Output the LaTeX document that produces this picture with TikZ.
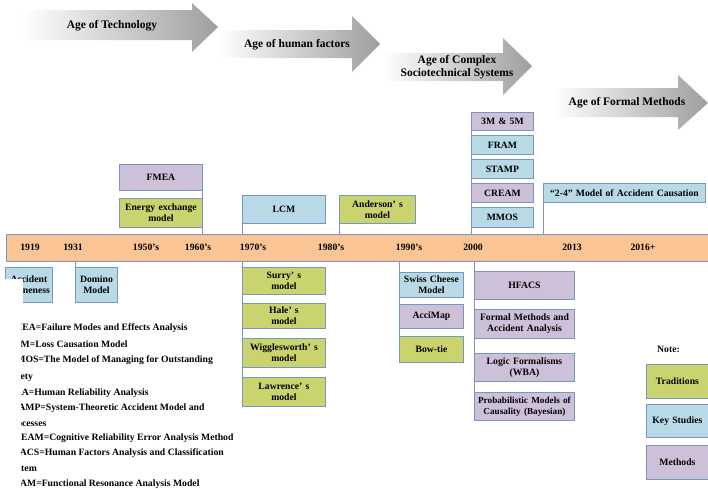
\documentclass[tikz,border=0pt]{standalone}
\usepackage{fontspec}
\setmainfont{Liberation Serif}
\definecolor{bordc}{RGB}{120,150,190}
\definecolor{tradc}{RGB}{202,212,110}
\definecolor{keyc}{RGB}{183,218,230}
\definecolor{methc}{RGB}{205,192,217}
\definecolor{bandc}{RGB}{251,196,148}
\tikzset{
  bx/.style={draw=bordc, line width=0.9pt, inner sep=1pt, align=center, anchor=north west,
    font=\bfseries\fontsize{9.7}{11}\selectfont},
  trad/.style={bx, fill=tradc},
  keys/.style={bx, fill=keyc},
  meth/.style={bx, fill=methc},
  conn/.style={draw=bordc, line width=0.9pt},
  yr/.style={font=\bfseries\fontsize{9.7}{10}\selectfont, inner sep=0pt},
  agetxt/.style={font=\bfseries\fontsize{11.5}{13}\selectfont, align=center, inner sep=0pt},
  legtxt/.style={font=\bfseries\fontsize{9.7}{10}\selectfont, anchor=west, inner sep=0pt},
  agearrow/.style={left color=white, right color=black!38, draw=none}
}
\newcommand{\bxs}[7]{% style, name, x1, y1, x2, y2, text
  \pgfmathsetmacro{\bw}{#5-#3}\pgfmathsetmacro{\bh}{#6-#4}%
  \node[#1, minimum width=\bw pt, minimum height=\bh pt, text width=\bw pt-2pt] (#2) at (#3,#4) {#7};}
\newcommand{\aps}{’\,\,}
\begin{document}
\begin{tikzpicture}[x=1pt,y=-1pt]
\useasboundingbox (0,0) rectangle (708,488);
% age arrows
\shade[agearrow] (22,10) -- (192,10) -- (192,3) -- (218,27) -- (192,52) -- (192,40) -- (22,40) -- cycle;
\node[agetxt] (age1) at (112,26) {Age of Technology};
\shade[agearrow] (218,30) -- (352,30) -- (352,16) -- (380,44) -- (352,72) -- (352,58) -- (218,58) -- cycle;
\node[agetxt] (age2) at (297,45) {Age of human factors};
\shade[agearrow] (383,53) -- (503,53) -- (503,38) -- (532,66) -- (503,95) -- (503,81) -- (383,81) -- cycle;
\node[agetxt] (age3) at (457,67) {Age of Complex\\Sociotechnical Systems};
\shade[agearrow] (553,88) -- (678,88) -- (678,75) -- (708,103) -- (678,130) -- (678,117) -- (553,117) -- cycle;
\node[agetxt] (age4) at (627,103) {Age of Formal Methods};
% band
\node[draw=bordc, line width=0.9pt, fill=bandc, anchor=north west, minimum width=704pt, minimum height=27pt, inner sep=0pt] (band) at (6,234) {};
\node[yr] (y1919) at (30,247.5) {1919};
\node[yr] (y1931) at (73,247.5) {1931};
\node[yr] (y1950) at (146,247.5) {1950's};
\node[yr] (y1960) at (198,247.5) {1960's};
\node[yr] (y1970) at (253,247.5) {1970's};
\node[yr] (y1980) at (331,247.5) {1980's};
\node[yr] (y1990) at (409,247.5) {1990's};
\node[yr] (y2000) at (473,247.5) {2000};
\node[yr] (y2013) at (572,247.5) {2013};
\node[yr] (y2016) at (643,247.5) {2016+};
% connectors (drawn before boxes)
\coordinate (cfm) at (202,164);
\draw[conn] (cfm) -- (cfm |- band.north);
\coordinate (clcm) at (242,195);
\draw[conn] (clcm) -- (clcm |- band.north);
\coordinate (cand) at (339,195);
\draw[conn] (cand) -- (cand |- band.north);
\coordinate (c2000) at (471,112);
\draw[conn] (c2000) -- (c2000 |- band.north);
\coordinate (c24) at (543,183);
\draw[conn] (c24) -- (c24 |- band.north);
\coordinate (cdom) at (75,267);
\draw[conn] (cdom |- band.south) -- (cdom);
\coordinate (c70) at (242,377);
\draw[conn] (c70 |- band.south) -- (c70);
\coordinate (c90) at (399,336);
\draw[conn] (c90 |- band.south) -- (c90);
\coordinate (c00) at (474,392);
\draw[conn] (c00 |- band.south) -- (c00);
% above boxes
\bxs{meth}{fmea}{119}{164}{202}{190}{FMEA}
\bxs{trad}{energy}{119}{198}{202}{227}{Energy exchange\\model}
\bxs{keys}{lcm}{242}{195}{325}{223}{LCM}
\bxs{trad}{anderson}{339}{195}{415}{223}{Anderson\aps s\\model}
\bxs{meth}{mfive}{471}{112}{533}{130}{3M \& 5M}
\bxs{keys}{fram}{471}{135}{533}{154}{FRAM}
\bxs{keys}{stamp}{471}{159}{533}{178}{STAMP}
\bxs{meth}{cream}{471}{183}{533}{202}{CREAM}
\bxs{keys}{mmos}{471}{207}{533}{227}{MMOS}
\bxs{keys}{twofour}{543}{183}{705}{202}{“2-4”\,\,Model of Accident Causation}
% below boxes
\bxs{keys}{accprone}{5}{267}{52}{302}{Accident\\Proneness}
\fill[white] (0,279) rectangle (22.5,306);
\bxs{keys}{domino}{75}{267}{117}{302}{Domino\\Model}
\bxs{trad}{surry}{242}{267}{325}{294}{Surry\aps s\\model}
\bxs{trad}{hale}{242}{303}{325}{328}{Hale\aps s\\model}
\bxs{trad}{wiggles}{242}{338}{325}{367}{Wigglesworth\aps s\\model}
\bxs{trad}{lawrence}{242}{377}{325}{406}{Lawrence\aps s\\model}
\bxs{keys}{swiss}{399}{272}{463}{297}{Swiss Cheese\\Model}
\bxs{meth}{accimap}{399}{304}{463}{328}{AcciMap}
\bxs{trad}{bowtie}{399}{336}{463}{362}{Bow-tie}
\bxs{meth}{hfacs}{474}{271}{574}{299}{HFACS}
\bxs{meth}{formal}{474}{309}{574}{338}{Formal Methods and\\Accident Analysis}
\bxs{meth}{logic}{474}{353}{574}{381}{Logic Formalisms\\(WBA)}
\bxs{meth}{prob}{474}{392}{574}{420}{\fontsize{9.2}{11}\selectfont Probabilistic Models of\\Causality (Bayesian)}
% note
\node[legtxt] (note) at (657,349) {Note:};
\bxs{trad}{ntrad}{646}{364}{708}{398}{Traditions}
\bxs{keys}{nkey}{646}{404}{708}{437}{Key Studies}
\bxs{meth}{nmeth}{646}{445}{708}{479}{Methods}
% abbreviations (cut at left)
\begin{scope}
\clip (21.5,315) rectangle (320,488);
\node[legtxt] (l1) at (7,328) {FMEA=Failure Modes and Effects Analysis};
\node[legtxt] (l2) at (7,344) {LCM=Loss Causation Model};
\node[legtxt] (l3) at (7,360) {MMOS=The Model of Managing for Outstanding};
\node[legtxt] (l4) at (7,377) {Safety};
\node[legtxt] (l5) at (7,393) {HRA=Human Reliability Analysis};
\node[legtxt] (l6) at (7,408) {STAMP=System-Theoretic Accident Model and};
\node[legtxt] (l7) at (7,423) {Processes};
\node[legtxt] (l8) at (7,438) {CREAM=Cognitive Reliability Error Analysis Method};
\node[legtxt] (l9) at (7,453) {HFACS=Human Factors Analysis and Classification};
\node[legtxt] (l10) at (7,469) {System};
\node[legtxt] (l11) at (7,484) {FRAM=Functional Resonance Analysis Model};
\end{scope}
\end{tikzpicture}
\end{document}
